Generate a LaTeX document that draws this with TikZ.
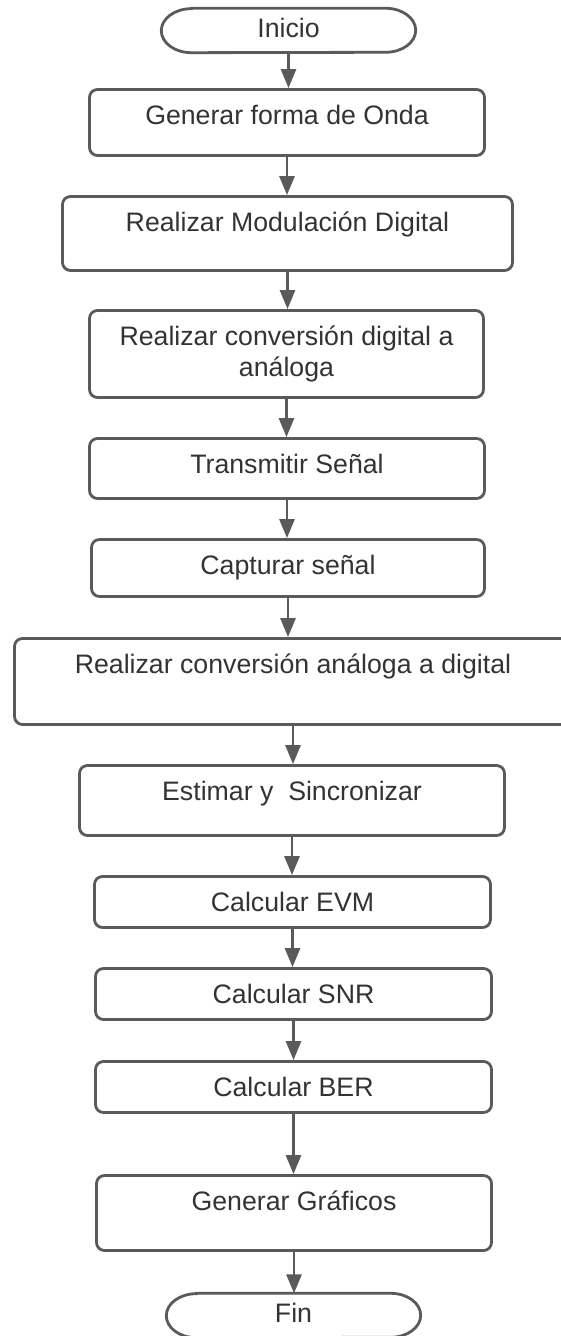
\documentclass[tikz,border=0pt]{standalone}
\usepackage{fontspec}
\setmainfont{Liberation Sans}
\usetikzlibrary{arrows.meta}
\definecolor{edge}{HTML}{5A5A5A}
\definecolor{ink}{HTML}{333333}
\begin{document}
\begin{tikzpicture}[x=1pt,y=1pt,
  stepbox/.style={draw=edge, line width=2.8pt, rounded corners=8pt, fill=white, inner sep=0pt},
  termbox/.style={inner sep=0pt, minimum width=254pt, minimum height=44pt},
  termline/.style={draw=edge, line width=2.8pt, fill=white},
  steptext/.style={text=ink, font=\fontsize{26.7}{31}\selectfont, inner sep=0pt, anchor=base},
  flow/.style={draw=edge, line width=2.8pt, -{Triangle[length=19pt,width=15pt]}}
]
\clip (0,0) rectangle (561,1336);
\fill[white] (0,0) rectangle (561,1336);

% terminators
\node[termbox] (start) at (288.5,1305.5) {};
\draw[termline] ([xshift=30pt]start.north west) -- ([xshift=-30pt]start.north east)
  arc[start angle=90, end angle=-90, x radius=30pt, y radius=22pt]
  -- ([xshift=30pt]start.south west)
  arc[start angle=270, end angle=90, x radius=30pt, y radius=22pt] -- cycle;
\node[steptext] (tstart) at ([yshift=-7pt]start.center) {Inicio};

\node[termbox] (stop) at (293.5,20.5) {};
\draw[termline] ([xshift=30pt]stop.north west) -- ([xshift=-30pt]stop.north east)
  arc[start angle=90, end angle=-90, x radius=30pt, y radius=22pt]
  -- ([xshift=30pt]stop.south west)
  arc[start angle=270, end angle=90, x radius=30pt, y radius=22pt] -- cycle;
\node[steptext] (tstop) at ([yshift=-7pt]stop.center) {Fin};

% process steps
\node[stepbox, minimum width=395pt, minimum height=66pt] (b1) at (287,1213.5) {};
\node[stepbox, minimum width=450pt, minimum height=74pt] (b2) at (287.5,1102.5) {};
\node[stepbox, minimum width=394pt, minimum height=87pt] (b3) at (286.5,982) {};
\node[stepbox, minimum width=395pt, minimum height=60pt] (b4) at (287,867.5) {};
\node[stepbox, minimum width=393pt, minimum height=57pt] (b5) at (288,768) {};
\node[stepbox, minimum width=557pt, minimum height=86pt] (b6) at (293,654.5) {};
\node[stepbox, minimum width=425pt, minimum height=70pt] (b7) at (292,535.5) {};
\node[stepbox, minimum width=396pt, minimum height=51pt] (b8) at (292.5,434) {};
\node[stepbox, minimum width=396pt, minimum height=51pt] (b9) at (293.5,342) {};
\node[stepbox, minimum width=396pt, minimum height=51pt] (b10) at (293.5,249) {};
\node[stepbox, minimum width=395pt, minimum height=75pt] (b11) at (294,123) {};

% step labels, set near the top of each box
\node[steptext] (t1) at ([yshift=-36pt]b1.north) {Generar forma de Onda};
\node[steptext] (t2) at ([yshift=-36pt]b2.north) {Realizar Modulación Digital};
\node[steptext] (t3) at ([yshift=-36pt]b3.north)
  {\begin{tabular}[t]{@{}c@{}}Realizar conversión digital a\\análoga\end{tabular}};
\node[steptext] (t4) at ([yshift=-36pt]b4.north) {Transmitir Señal};
\node[steptext] (t5) at ([yshift=-36pt]b5.north) {Capturar señal};
\node[steptext] (t6) at ([yshift=-36pt]b6.north) {Realizar conversión análoga a digital};
\node[steptext] (t7) at ([yshift=-36pt]b7.north) {Estimar y\ \ Sincronizar};
\node[steptext] (t8) at ([yshift=-36pt]b8.north) {Calcular EVM};
\node[steptext] (t9) at ([yshift=-36pt]b9.north) {Calcular SNR};
\node[steptext] (t10) at ([yshift=-36pt]b10.north) {Calcular BER};
\node[steptext] (t11) at ([yshift=-36pt]b11.north) {Generar Gráficos};

% flow arrows
\draw[flow] (start.south) -- (start.south |- b1.north);
\draw[flow] (b1.south) -- (b1.south |- b2.north);
\draw[flow] (b2.south) -- (b2.south |- b3.north);
\draw[flow] (b3.south) -- (b3.south |- b4.north);
\draw[flow] (b4.south) -- (b4.south |- b5.north);
\draw[flow] (b5.south) -- (b5.south |- b6.north);
\draw[flow] (b6.south) -- (b6.south |- b7.north);
\draw[flow] (b7.south) -- (b7.south |- b8.north);
\draw[flow] (b8.south) -- (b8.south |- b9.north);
\draw[flow] (b9.south) -- (b9.south |- b10.north);
\draw[flow] (b10.south) -- (b10.south |- b11.north);
\draw[flow] (b11.south) -- (b11.south |- stop.north);
\end{tikzpicture}
\end{document}
